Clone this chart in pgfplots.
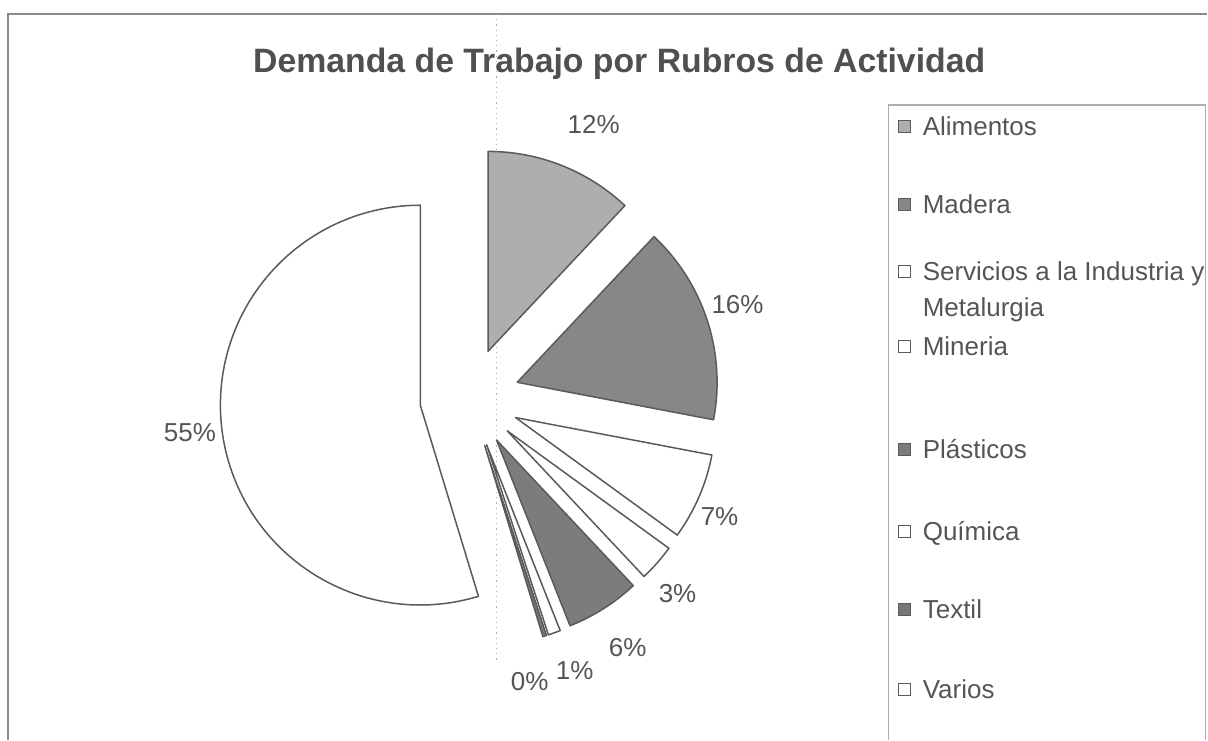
\documentclass[border=0pt]{standalone}
\usepackage{fontspec}
\setmainfont{Liberation Sans}
\usepackage{pgfplots}
\usepackage{pgfplotstable}
\pgfplotsset{compat=1.18}
\definecolor{pie0}{HTML}{AEAEAE}
\definecolor{pie1}{HTML}{878787}
\definecolor{pie2}{HTML}{FFFFFF}
\definecolor{pie3}{HTML}{FFFFFF}
\definecolor{pie4}{HTML}{7C7C7C}
\definecolor{pie5}{HTML}{FFFFFF}
\definecolor{pie6}{HTML}{777777}
\definecolor{pie7}{HTML}{FFFFFF}
\definecolor{txt}{HTML}{555555}
\definecolor{ttl}{HTML}{505050}
\definecolor{edge}{HTML}{5A5A5A}
\definecolor{frame}{HTML}{8A8A8A}

% value = share in percent; lx, ly = position of the percentage label
\pgfplotstableread{
value lx ly
12   594 615
16   738 435
7    720 223
3    678 146
6    628  92
1    575  69
0.3  530  58
54.7 190 307
}\piedata

\tikzset{
  pct/.style={text=txt, font=\fontsize{13}{15}\selectfont, inner sep=0pt},
  leg/.style={text=txt, font=\fontsize{13}{15}\selectfont, inner sep=0pt, anchor=base west},
  wedge/.style={draw=edge, line width=0.75pt, line join=round}
}

\newcommand\legentry[4]{%
  \node[draw=edge, line width=0.5pt, fill=#2, minimum size=6pt, inner sep=0pt] at (axis cs:905,#1) {};
  \node[leg] at (axis cs:923,#3) {#4};
}

\begin{document}
\begin{tikzpicture}
\def\cx{470}\def\cy{342}\def\ex{50}
\def\cum{0}
\pgfplotsforeachungrouped \i in {0,...,7}{%
  \pgfplotstablegetelem{\i}{value}\of\piedata \let\v\pgfplotsretval
  \pgfmathsetmacro\sa{90-3.6*\cum}%
  \pgfmathsetmacro\cum{\cum+\v}%
  \pgfmathsetmacro\ea{90-3.6*\cum}%
  \pgfmathsetmacro\ma{(\sa+\ea)/2}%
  \pgfmathsetmacro\tx{\cx+\ex*cos(\ma)}%
  \pgfmathsetmacro\ty{\cy+\ex*sin(\ma)}%
  \pgfmathtruncatemacro\lb{round(\v)}%
  \expandafter\xdef\csname sa\i\endcsname{\sa}%
  \expandafter\xdef\csname ea\i\endcsname{\ea}%
  \expandafter\xdef\csname tx\i\endcsname{\tx}%
  \expandafter\xdef\csname ty\i\endcsname{\ty}%
  \expandafter\xdef\csname lb\i\endcsname{\lb}%
  \pgfplotstablegetelem{\i}{lx}\of\piedata
  \expandafter\xdef\csname lx\i\endcsname{\pgfplotsretval}%
  \pgfplotstablegetelem{\i}{ly}\of\piedata
  \expandafter\xdef\csname ly\i\endcsname{\pgfplotsretval}%
}
\begin{axis}[
  x=0.5pt, y=0.5pt, xmin=0, xmax=1208, ymin=0, ymax=740,
  scale only axis, hide axis, clip=false]
  \path[fill=white] (axis cs:0,0) rectangle (axis cs:1208,740);
  % frames
  \draw[frame, line width=0.8pt] (axis cs:8,0) -- (axis cs:8,726) -- (axis cs:1208,726);
  \draw[frame!70, line width=0.6pt] (axis cs:889,0) -- (axis cs:889,635) -- (axis cs:1206,635) -- (axis cs:1206,0);
  \draw[frame!70, dotted, line width=0.6pt] (axis cs:497,726) -- (axis cs:497,80);
  % title
  \node[anchor=base west, text=ttl, font=\bfseries\fontsize{16.9}{20}\selectfont, inner sep=0pt]
    at (axis cs:253,667) {Demanda de Trabajo por Rubros de Actividad};
  % wedges and labels
  \pgfplotsinvokeforeach{0,...,7}{%
    \edef\tmp{\noexpand\filldraw[wedge, fill=pie#1]
      (axis cs:\csname tx#1\endcsname,\csname ty#1\endcsname)
      -- ++(\csname sa#1\endcsname:100pt)
      arc[start angle=\csname sa#1\endcsname, end angle=\csname ea#1\endcsname, radius=100pt]
      -- cycle;
      \noexpand\node[pct] at (axis cs:\csname lx#1\endcsname,\csname ly#1\endcsname)
      {\csname lb#1\endcsname\noexpand\%};}%
    \tmp
  }
  % legend
  \legentry{613}{pie0}{604.5}{Alimentos}
  \legentry{535}{pie1}{526.5}{Madera}
  \legentry{468}{pie2}{459.5}{Servicios a la Industria y}
  \node[leg] at (axis cs:923,423.5) {Metalurgia};
  \legentry{393}{pie3}{384.5}{Mineria}
  \legentry{290}{pie4}{281.5}{Plásticos}
  \legentry{208}{pie5}{199.5}{Química}
  \legentry{130}{pie6}{121.5}{Textil}
  \legentry{50}{pie7}{41.5}{Varios}
\end{axis}
\end{tikzpicture}
\end{document}
